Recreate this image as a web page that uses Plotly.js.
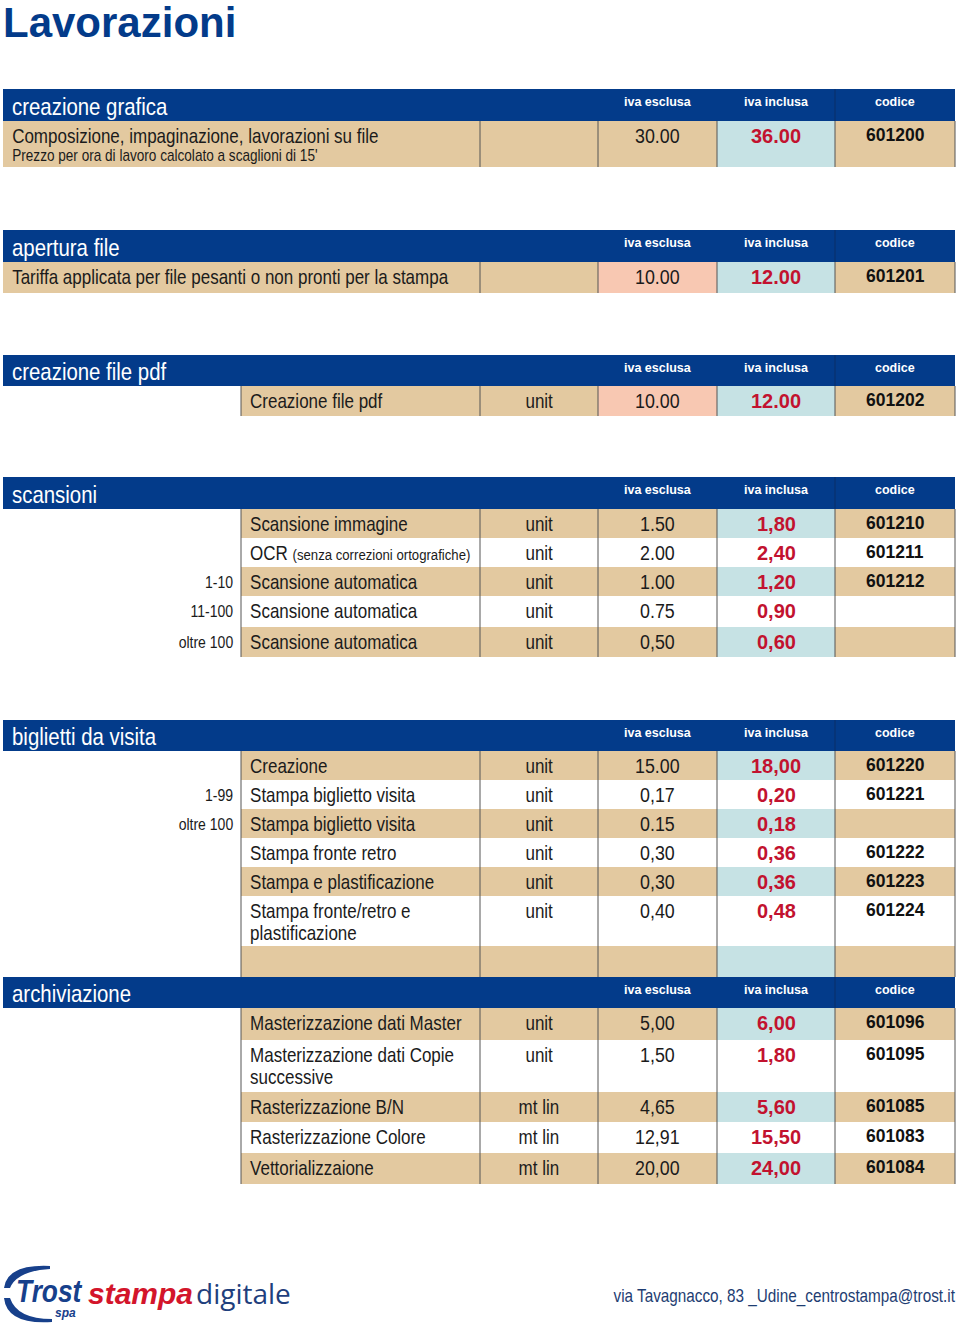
<!DOCTYPE html>
<html>
<head>
<meta charset="utf-8">
<script src="https://cdn.plot.ly/plotly-3.0.1.min.js"></script>
<style>html,body{margin:0;padding:0;background:#fff;overflow:hidden}</style>
</head>
<body>
<div id="chart" style="width:960px;height:1324px"></div>
<script>
// ===================== DATA =====================
const pageTitle = "Lavorazioni";
const sectionTitles = ["creazione grafica", "apertura file", "creazione file pdf", "scansioni", "biglietti da visita", "archiviazione"];
const colHeaders = ["iva esclusa", "iva inclusa", "codice"];

// creazione grafica
const graficaDesc  = ["Composizione, impaginazione, lavorazioni su file"];
const graficaNote  = ["Prezzo per ora di lavoro calcolato a scaglioni di 15'"];
const graficaTier  = [""];
const graficaUnit  = [""];
const graficaNet   = ["30.00"];
const graficaGross = ["36.00"];
const graficaCode  = ["601200"];

// apertura file
const aperturaDesc  = ["Tariffa applicata per file pesanti o non pronti per la stampa"];
const aperturaNote  = [""];
const aperturaTier  = [""];
const aperturaUnit  = [""];
const aperturaNet   = ["10.00"];
const aperturaGross = ["12.00"];
const aperturaCode  = ["601201"];

// creazione file pdf
const pdfDesc  = ["Creazione file pdf"];
const pdfNote  = [""];
const pdfTier  = [""];
const pdfUnit  = ["unit"];
const pdfNet   = ["10.00"];
const pdfGross = ["12.00"];
const pdfCode  = ["601202"];

// scansioni
const scanDesc  = ["Scansione immagine", "OCR <span style=\"font-size:15.5px\">(senza correzioni ortografiche)</span>", "Scansione automatica", "Scansione automatica", "Scansione automatica"];
const scanNote  = ["", "", "", "", ""];
const scanTier  = ["", "", "1-10", "11-100", "oltre 100"];
const scanUnit  = ["unit", "unit", "unit", "unit", "unit"];
const scanNet   = ["1.50", "2.00", "1.00", "0.75", "0,50"];
const scanGross = ["1,80", "2,40", "1,20", "0,90", "0,60"];
const scanCode  = ["601210", "601211", "601212", "", ""];

// biglietti da visita
const bigDesc  = ["Creazione", "Stampa biglietto visita", "Stampa biglietto visita", "Stampa fronte retro", "Stampa e plastificazione", "Stampa fronte/retro e|plastificazione", ""];
const bigNote  = ["", "", "", "", "", "", ""];
const bigTier  = ["", "1-99", "oltre 100", "", "", "", ""];
const bigUnit  = ["unit", "unit", "unit", "unit", "unit", "unit", ""];
const bigNet   = ["15.00", "0,17", "0.15", "0,30", "0,30", "0,40", ""];
const bigGross = ["18,00", "0,20", "0,18", "0,36", "0,36", "0,48", ""];
const bigCode  = ["601220", "601221", "", "601222", "601223", "601224", ""];

// archiviazione
const archDesc  = ["Masterizzazione dati Master", "Masterizzazione dati Copie|successive", "Rasterizzazione B/N", "Rasterizzazione Colore", "Vettorializzaione"];
const archNote  = ["", "", "", "", ""];
const archTier  = ["", "", "", "", ""];
const archUnit  = ["unit", "unit", "mt lin", "mt lin", "mt lin"];
const archNet   = ["5,00", "1,50", "4,65", "12,91", "20,00"];
const archGross = ["6,00", "1,80", "5,60", "15,50", "24,00"];
const archCode  = ["601096", "601095", "601085", "601083", "601084"];

const footerAddress = "via Tavagnacco, 83 _Udine_centrostampa@trost.it";

// ===================== LAYOUT / STYLE =====================
const NAVY = "#033b8a", TAN = "#e3c9a0", LBLUE = "#c6e2e4", SALMON = "#f8c8b2", RED = "#c2122f", LINE = "#555555";
const SANS = "Liberation Sans, Arial, sans-serif";
const NK = 0.85; // horizontal condensing for the narrow face
const X = {full: 3, off: 241, unit: 480, net: 598, gross: 717, code: 835, right: 955};

const sections = [
  {top: 89,  head: 32, heights: [46],                          left: X.full, netFill: TAN,    desc: graficaDesc, note: graficaNote, tier: graficaTier, unit: graficaUnit, net: graficaNet, gross: graficaGross, code: graficaCode},
  {top: 230, head: 32, heights: [31],                          left: X.full, netFill: SALMON, desc: aperturaDesc, note: aperturaNote, tier: aperturaTier, unit: aperturaUnit, net: aperturaNet, gross: aperturaGross, code: aperturaCode},
  {top: 355, head: 31, heights: [30],                          left: X.off,  netFill: SALMON, desc: pdfDesc, note: pdfNote, tier: pdfTier, unit: pdfUnit, net: pdfNet, gross: pdfGross, code: pdfCode},
  {top: 477, head: 32, heights: [29, 29, 29, 31, 30],          left: X.off,  netFill: TAN,    desc: scanDesc, note: scanNote, tier: scanTier, unit: scanUnit, net: scanNet, gross: scanGross, code: scanCode},
  {top: 720, head: 31, heights: [29, 29, 29, 29, 29, 50, 31],  left: X.off,  netFill: TAN,    desc: bigDesc, note: bigNote, tier: bigTier, unit: bigUnit, net: bigNet, gross: bigGross, code: bigCode},
  {top: 977, head: 31, heights: [32, 52, 30, 31, 31],          left: X.off,  netFill: TAN,    desc: archDesc, note: archNote, tier: archTier, unit: archUnit, net: archNet, gross: archGross, code: archCode}
];

const shapes = [];
const ann = [];
const squeeze = [];
function rect(x0, x1, y0, y1, fill) {
  shapes.push({type: "rect", xref: "x", yref: "y", x0, x1, y0, y1, fillcolor: fill, line: {width: 0}, layer: "below"});
}
function vline(x, y0, y1, color) {
  shapes.push({type: "line", xref: "x", yref: "y", x0: x, x1: x, y0, y1, line: {color: color || LINE, width: 1}});
}
function text(t, x, y, size, color, anchor, bold, k, family) {
  ann.push({text: bold ? "<b>" + t + "</b>" : t, x, y, xref: "x", yref: "y", showarrow: false,
            xanchor: anchor || "left", yanchor: "middle", font: {size, color, family: family || SANS}});
  squeeze.push(k || 1);
}

// page title
text("<b>" + pageTitle + "</b>", 1, 22, 42, NAVY, "left");

sections.forEach((s, si) => {
  const hb = s.top + s.head;
  rect(X.full, X.right, s.top, hb, NAVY);
  vline(X.code, s.top, hb, "#0a2e66");
  text(sectionTitles[si], 10, s.top + s.head / 2 + 1, 24, "#ffffff", "left", false, NK);
  text(colHeaders[0], (X.net + X.gross) / 2, s.top + s.head / 2 - 3, 12.5, "#ffffff", "center", true);
  text(colHeaders[1], (X.gross + X.code) / 2, s.top + s.head / 2 - 3, 12.5, "#ffffff", "center", true);
  text(colHeaders[2], (X.code + X.right) / 2, s.top + s.head / 2 - 3, 12.5, "#ffffff", "center", true);

  let y = hb;
  s.heights.forEach((h, i) => {
    const y0 = y, y1 = y + h;
    if (i % 2 === 0) {
      rect(s.left, X.unit, y0, y1, TAN);
      rect(X.unit, X.net, y0, y1, TAN);
      rect(X.net, X.gross, y0, y1, s.netFill);
      rect(X.gross, X.code, y0, y1, LBLUE);
      rect(X.code, X.right, y0, y1, TAN);
    }
    const ty = y0 + 15;
    const lines = s.desc[i].split("|");
    lines.forEach((ln, k) => { if (ln) text(ln, s.left + 7, ty + k * 22, 20, "#1b1b1b", "left", false, NK); });
    if (s.note[i]) text(s.note[i], s.left + 7, ty + 19, 16, "#1b1b1b", "left", false, NK);
    if (s.tier[i]) text(s.tier[i], X.off - 6, ty, 16.5, "#1b1b1b", "right", false, NK);
    if (s.unit[i]) text(s.unit[i], (X.unit + X.net) / 2, ty, 20, "#1b1b1b", "center", false, NK);
    if (s.net[i]) text(s.net[i], (X.net + X.gross) / 2, ty - 1, 21, "#1b1b1b", "center", false, NK);
    if (s.gross[i]) text(s.gross[i], (X.gross + X.code) / 2, ty, 20, RED, "center", true);
    if (s.code[i]) text(s.code[i], (X.code + X.right) / 2, ty - 1, 17.5, "#111111", "center", true);
    y = y1;
  });
  const vx = [X.unit, X.net, X.gross, X.code, X.right];
  if (s.left > X.full) vx.unshift(s.left);
  vx.forEach(x => vline(x, hb, y));
});

// footer logo
shapes.push({type: "path", xref: "x", yref: "y", path: "M 4 1288 Q 7 1264 50 1266 L 50 1269 Q 17 1271 10 1288 Z", fillcolor: "#17408b", line: {width: 0}});
shapes.push({type: "path", xref: "x", yref: "y", path: "M 4 1298 Q 7 1325 52 1322 L 52 1319 Q 17 1319 10 1298 Z", fillcolor: "#17408b", line: {width: 0}});
text("<b><i>Trost</i></b>", 14, 1291, 31, "#17408b", "left", false, NK);
text("<b><i>spa</i></b>", 53, 1313, 12, "#17408b", "left", false, 1);
text("<b><i>stampa</i></b>", 86, 1293, 30, "#d3152b", "left");
text("digitale", 194, 1293, 28, "#1f3f7d", "left", false, 1, "Open Sans, sans-serif");
text(footerAddress, 957, 1296, 18, "#1e3d72", "right", false, NK);

const layout = {
  width: 960, height: 1324,
  margin: {l: 0, r: 0, t: 0, b: 0},
  paper_bgcolor: "#ffffff", plot_bgcolor: "#ffffff",
  xaxis: {range: [0, 960], visible: false, fixedrange: true},
  yaxis: {range: [1324, 0], visible: false, fixedrange: true},
  showlegend: false,
  shapes: shapes,
  annotations: ann
};
Plotly.newPlot("chart", [{type: "scatter", x: [], y: [], hoverinfo: "skip"}], layout, {staticPlot: true, displayModeBar: false}).then(() => {
  document.querySelectorAll("#chart g.annotation").forEach(g => {
    const i = +g.getAttribute("data-index");
    const k = squeeze[i];
    if (!k || k === 1) return;
    const t = g.querySelector("text.annotation-text");
    if (!t) return;
    const bb = t.getBBox();
    const a = ann[i].xanchor;
    const ax = a === "left" ? bb.x : (a === "right" ? bb.x + bb.width : bb.x + bb.width / 2);
    const prev = t.getAttribute("transform") || "";
    t.setAttribute("transform", prev + " translate(" + ax + ",0) scale(" + k + ",1) translate(" + (-ax) + ",0)");
  });
});
</script>
</body>
</html>
